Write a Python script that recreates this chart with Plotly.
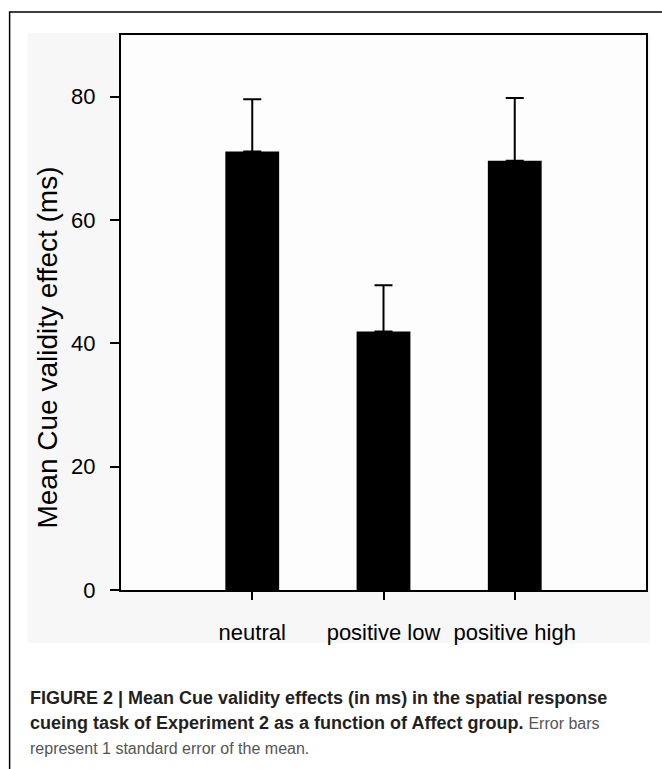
import plotly.graph_objects as go

categories = ["neutral", "positive low", "positive high"]
means = [71.1, 41.9, 69.6]
std_err = [8.5, 7.5, 10.2]
y_ticks = [0, 20, 40, 60, 80]

W, H = 662, 769
L, R, T, B = 120.5, 646.0, 35.0, 590.0

def px(x):
    return (x - L) / (R - L)

def py(y):
    return (B - y) / (B - T)

xpos = list(range(len(categories)))

fig = go.Figure()
fig.add_trace(go.Bar(
    x=xpos, y=means, width=0.41,
    marker=dict(color="black", line=dict(width=0)),
    error_y=dict(type="data", array=std_err, arrayminus=[0] * len(std_err),
                 symmetric=False, color="black", thickness=2, width=9),
))

font = "Liberation Sans, Arial, sans-serif"

fig.update_layout(
    width=W, height=H,
    margin=dict(l=L, r=W - R, t=T, b=H - B, pad=0),
    paper_bgcolor="white", plot_bgcolor="rgba(0,0,0,0)",
    showlegend=False,
    font=dict(family=font, color="black"),
    xaxis=dict(range=[-1, 3], tickvals=xpos, ticktext=categories,
               showline=True, linecolor="black", linewidth=2, mirror=True,
               ticks="outside", ticklen=8, tickwidth=2, tickcolor="black",
               showgrid=False, zeroline=False, ticklabelstandoff=14,
               tickfont=dict(size=22, family=font, color="black")),
    yaxis=dict(range=[0, 90], tickvals=y_ticks,
               showline=True, linecolor="black", linewidth=2, mirror=True,
               ticks="outside", ticklen=9, tickwidth=2, tickcolor="black",
               showgrid=False, zeroline=False, ticklabelstandoff=10,
               tickfont=dict(size=22, family=font, color="black")),
)

shapes = [
    dict(type="rect", xref="paper", yref="paper", layer="below",
         x0=px(27), x1=px(650), y0=py(643), y1=py(33),
         fillcolor="#f7f7f7", line=dict(width=0)),
    dict(type="rect", xref="paper", yref="paper", layer="below",
         x0=0, x1=1, y0=0, y1=1,
         fillcolor="#fdfdfd", line=dict(width=0)),
    dict(type="rect", xref="paper", yref="paper", layer="above",
         x0=px(9), x1=px(670), y0=py(780), y1=py(12),
         fillcolor="rgba(0,0,0,0)", line=dict(color="black", width=1.5)),
]
fig.update_layout(shapes=shapes)

fig.add_annotation(
    text="Mean Cue validity effect (ms)", textangle=-90,
    xref="paper", yref="paper", x=px(46), y=py(348),
    xanchor="center", yanchor="middle", showarrow=False,
    font=dict(size=28, family=font, color="black"))

caption_lines = [
    "<b>FIGURE 2 | Mean Cue validity effects (in ms) in the spatial response</b>",
    "<b>cueing task of Experiment 2 as a function of Affect group.</b> <span style='font-size:16px;color:#555555'>Error bars</span>",
    "<span style='font-size:16px;color:#555555'>represent 1 standard error of the mean.</span>",
]
caption_y = [698, 723, 748]
for line, yy in zip(caption_lines, caption_y):
    fig.add_annotation(text=line, xref="paper", yref="paper",
                       x=px(27), y=py(yy), xanchor="left", yanchor="middle",
                       showarrow=False, align="left",
                       font=dict(size=18, family=font, color="#231f20"))

fig.write_html("out.html", config={"displayModeBar": False},
               post_script="document.body.style.margin='0';")
